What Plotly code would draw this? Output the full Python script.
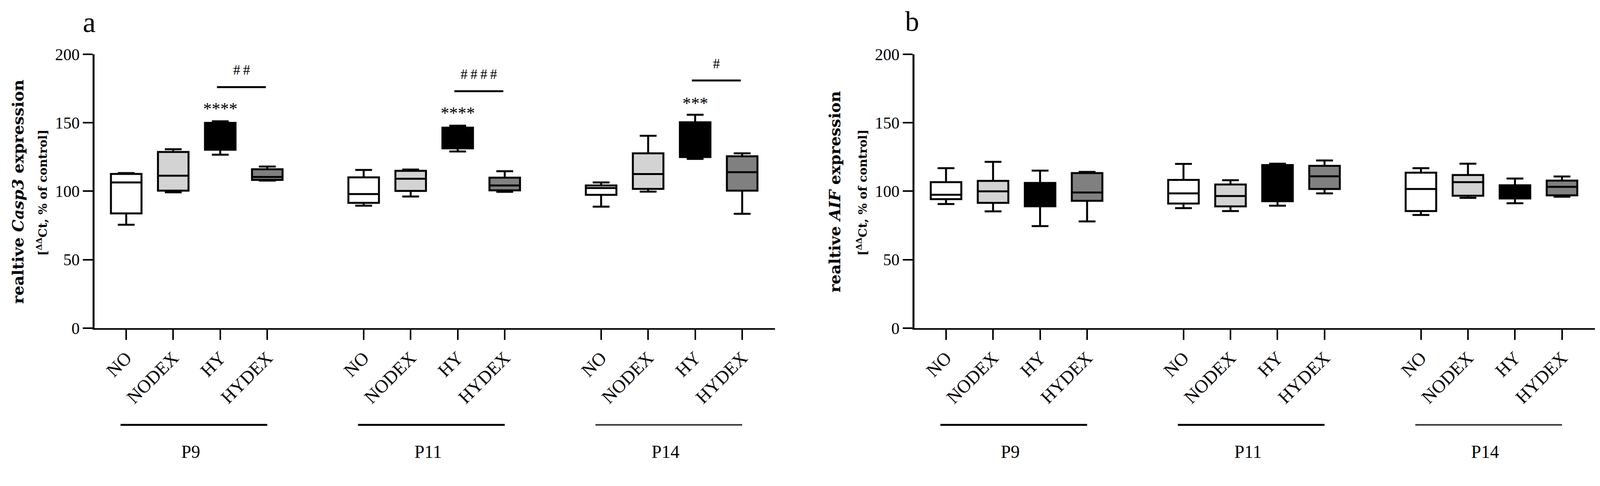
import plotly.graph_objects as go

# groups and conditions
groups = ["P9", "P11", "P14"]
conditions = ["NO", "NODEX", "HY", "HYDEX"]
group_base = [0, 5.05, 10.1]

# Casp3 box statistics, order: P9(NO,NODEX,HY,HYDEX), P11(...), P14(...)
casp3_min = [75.5, 99.2, 126.6, 107.7, 89.4, 96.1, 129.0, 99.5, 88.7, 99.7, 123.6, 83.5]
casp3_q1 = [83.8, 100.4, 130.3, 108.2, 91.5, 100.2, 131.3, 100.6, 97.3, 101.7, 124.9, 100.4]
casp3_med = [106.4, 111.3, 141.2, 110.4, 97.9, 109.1, 134.5, 104.2, 102.3, 112.5, 130.0, 113.9]
casp3_q3 = [112.6, 128.6, 149.9, 116.0, 110.1, 114.9, 146.4, 109.9, 104.2, 127.6, 150.3, 125.5]
casp3_max = [113.2, 130.6, 151.0, 118.0, 115.5, 115.8, 147.8, 114.6, 106.4, 140.5, 155.8, 127.6]

# AIF box statistics, same order
aif_min = [90.6, 85.3, 74.5, 77.9, 87.6, 85.5, 89.4, 98.4, 82.6, 95.1, 91.2, 96.0]
aif_q1 = [94.2, 91.5, 89.0, 93.0, 91.0, 88.9, 92.7, 101.6, 85.5, 96.7, 94.7, 97.0]
aif_med = [97.4, 99.9, 99.1, 99.0, 98.4, 96.5, 101.3, 110.9, 101.6, 106.6, 100.8, 103.2]
aif_q3 = [106.6, 107.5, 106.0, 113.2, 108.2, 104.9, 119.1, 118.5, 113.5, 111.8, 104.3, 107.7]
aif_max = [116.8, 121.4, 115.0, 114.1, 119.9, 108.0, 120.1, 122.4, 116.8, 120.1, 109.2, 110.7]

# significance marks in panel a (HY vs NO, HY vs HYDEX)
star_text = ["****", "****", "***"]
star_y = [162.0, 158.8, 166.0]
hash_text = ["#\u2009#", "#\u2009#\u2009#\u2009#", "#"]
hash_y = [188.5, 185.3, 193.0]
bracket_y = [176.0, 173.0, 180.8]

fills = {"NO": "white", "NODEX": "#d3d3d3", "HY": "black", "HYDEX": "#808080"}
SERIF = "Liberation Serif"
W, H = 4280, 1244
DX, DY = -13, -32  # page offset correction (px)


def px(x):
    return (x + DX) / W


def py(y):
    return 1 - (y + DY) / H


positions = [b + i for b in group_base for i in range(len(conditions))]

fig = go.Figure()


def add_boxes(stats, xaxis, yaxis):
    lo, q1, med, q3, hi = stats
    for ci, cond in enumerate(conditions):
        fig.add_trace(go.Box(
            x=positions[ci::4], lowerfence=lo[ci::4], q1=q1[ci::4], median=med[ci::4],
            q3=q3[ci::4], upperfence=hi[ci::4], width=0.65, whiskerwidth=0.55,
            fillcolor=fills[cond], line=dict(color="black", width=5),
            boxpoints=False, showlegend=False, xaxis=xaxis, yaxis=yaxis,
            hoverinfo="skip"))


add_boxes((casp3_min, casp3_q1, casp3_med, casp3_q3, casp3_max), "x", "y")
add_boxes((aif_min, aif_q1, aif_med, aif_q3, aif_max), "x2", "y2")

xcommon = dict(range=[-0.67, 13.8], showline=True, linewidth=4, linecolor="black",
               ticks="outside", ticklen=26, tickwidth=4, tickcolor="black",
               tickvals=positions, ticktext=conditions * 3, tickangle=-45,
               tickfont=dict(family=SERIF, size=47, color="black"),
               showgrid=False, zeroline=False)
ycommon = dict(range=[0, 200], tickvals=[0, 50, 100, 150, 200], showline=True,
               linewidth=5, linecolor="black", ticks="outside", ticklen=25,
               tickwidth=4, tickcolor="black",
               tickfont=dict(family=SERIF, size=42, color="black"),
               showgrid=False, zeroline=False)

fig.update_layout(
    autosize=True,
    margin=dict(l=0, r=0, t=0, b=0, pad=0),
    paper_bgcolor="white", plot_bgcolor="white",
    xaxis=dict(domain=[px(258), px(2078)], anchor="y", **xcommon),
    yaxis=dict(domain=[py(873), py(145)], anchor="x", **ycommon),
    xaxis2=dict(domain=[px(2451), px(4271)], anchor="y2", **xcommon),
    yaxis2=dict(domain=[py(873), py(145)], anchor="x2", **ycommon),
)

annotations = []
shapes = []


def note(xref, yref, x, y, text, size, family=SERIF, angle=0):
    annotations.append(dict(xref=xref, yref=yref, x=x, y=y, text=text, showarrow=False,
                            xanchor="center", yanchor="middle", textangle=angle,
                            font=dict(family=family, size=size, color="black")))


# group lines and labels under both panels (the P14 line is a little lighter)
for xr in ["x", "x2"]:
    for g, b in zip(groups, group_base):
        lc, lw = ("#333333", 4) if g == "P14" else ("black", 5)
        shapes.append(dict(type="line", xref=xr, yref="paper", x0=b - 0.12, x1=b + 3.0,
                           y0=py(1130), y1=py(1130), line=dict(color=lc, width=lw)))
        note(xr, "paper", b + 1.37, py(1202), g, 46)

# significance annotations panel a
for b, st, sy, ht, hy, by in zip(group_base, star_text, star_y, hash_text, hash_y, bracket_y):
    note("x", "y", b + 2, sy - 1.8, st, 44)
    note("x", "y", b + 2.45, hy, ht, 36)
    shapes.append(dict(type="line", xref="x", yref="y", x0=b + 1.93, x1=b + 2.97,
                       y0=by, y1=by, line=dict(color="black", width=5)))

# y axis titles
titles = [("realtive <i>Casp3</i> expression", 52, 117),
          ("realtive <i>AIF</i> expression", 2237, 2310)]
for t, x1, x2 in titles:
    note("paper", "paper", px(x1), py(510), "<b>" + t + "</b>", 40, "DejaVu Serif", -90)
    note("paper", "paper", px(x2), py(513),
         "<b>[<sup>\u0394\u0394</sup>Ct, % of control]</b>", 30, "DejaVu Serif", -90)

# panel letters
note("paper", "paper", px(243), py(60), "a", 74)
note("paper", "paper", px(2445), py(58), "b", 72)

fig.update_layout(annotations=annotations, shapes=shapes)

fig.write_html("out.html", config={"fillFrame": True, "responsive": True})
